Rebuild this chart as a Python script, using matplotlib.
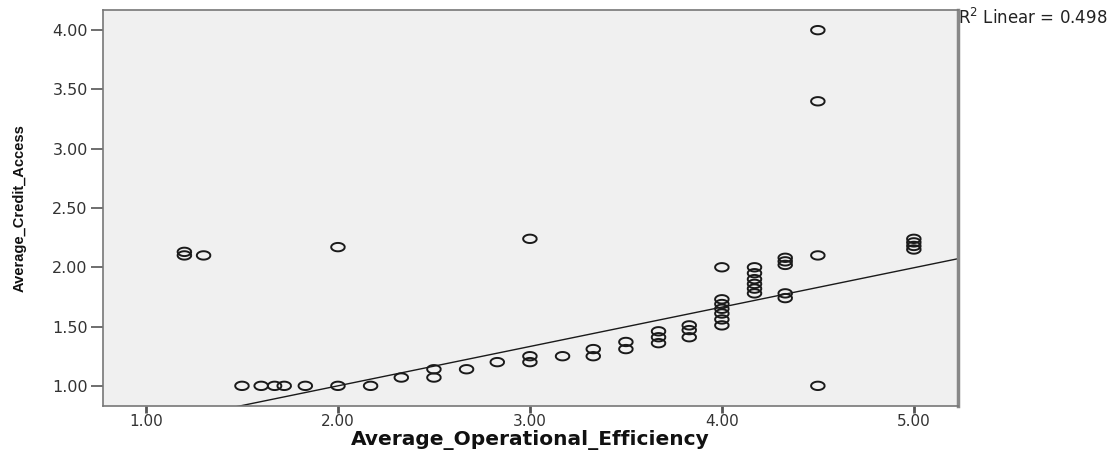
#!/usr/bin/env python3
"""
Scatter of average credit access against average operational efficiency,
with the linear fit line and its R-squared note.
"""

import matplotlib
matplotlib.use("Agg")
import matplotlib.pyplot as plt
import numpy as np
from matplotlib.path import Path

# Respondent averages (x = operational efficiency, y = credit access)
efficiency = [1.20, 1.20, 1.30, 2.00, 3.00,
              1.50, 1.60, 1.67, 1.72, 1.83, 2.00, 2.17,
              2.33, 2.50, 2.50, 2.67, 2.83, 3.00, 3.00, 3.17,
              3.33, 3.33, 3.50, 3.50, 3.67, 3.67, 3.67,
              3.83, 3.83, 3.83,
              4.00, 4.00, 4.00, 4.00, 4.00, 4.00, 4.00,
              4.17, 4.17, 4.17, 4.17, 4.17, 4.17,
              4.33, 4.33, 4.33, 4.33, 4.33,
              4.50, 4.50, 4.50, 4.50,
              5.00, 5.00, 5.00, 5.00]
credit = [2.13, 2.10, 2.10, 2.17, 2.24,
          1.00, 1.00, 1.00, 1.00, 1.00, 1.00, 1.00,
          1.07, 1.07, 1.14, 1.14, 1.20, 1.20, 1.25, 1.25,
          1.25, 1.31, 1.31, 1.37, 1.36, 1.41, 1.46,
          1.41, 1.47, 1.51,
          1.51, 1.56, 1.61, 1.65, 1.69, 1.73, 2.00,
          1.78, 1.82, 1.86, 1.90, 1.95, 2.00,
          1.74, 1.78, 2.02, 2.05, 2.08,
          1.00, 2.10, 3.40, 4.00,
          2.15, 2.18, 2.21, 2.24]

# Linear fit
fit_intercept = 0.336
fit_slope = 0.332
r_squared = 0.498

x_ticks = [1.0, 2.0, 3.0, 4.0, 5.0]
y_ticks = [1.0, 1.5, 2.0, 2.5, 3.0, 3.5, 4.0]


def plot_scatter():
    fig = plt.figure(figsize=(11.19, 4.50), dpi=100)
    ax = fig.add_axes([103 / 1119, 44 / 450, 855 / 1119, 396 / 450])
    ax.set_facecolor('#f0f0f0')

    # flattened circle marker
    t = np.linspace(0, 2 * np.pi, 60)
    ellipse = Path(np.column_stack([np.cos(t), 0.62 * np.sin(t)]))

    ax.scatter(efficiency, credit, marker=ellipse, s=95, facecolors='none',
               edgecolors='#1a1a1a', linewidths=1.4, zorder=3)

    ax.set_xlim(0.776, 5.23)
    ax.set_ylim(0.83, 4.17)

    xs = np.array(ax.get_xlim())
    ax.plot(xs, fit_intercept + fit_slope * xs, color='#1a1a1a',
            linewidth=1.0, zorder=2)

    ax.set_xticks(x_ticks)
    ax.set_yticks(y_ticks)
    ax.set_xticklabels([f'{v:.2f}' for v in x_ticks])
    ax.set_yticklabels([f'{v:.2f}' for v in y_ticks])
    ax.tick_params(axis='x', direction='out', length=5, width=2,
                   color='#555555', labelsize=11, labelcolor='#333333', pad=0.5)
    ax.tick_params(axis='y', direction='out', length=9, width=1.2,
                   color='#555555', labelsize=11.5, labelcolor='#333333', pad=2)

    for side in ['left', 'bottom', 'top']:
        ax.spines[side].set_color('#777777')
        ax.spines[side].set_linewidth(1.2)
    ax.spines['right'].set_color('#888888')
    ax.spines['right'].set_linewidth(2.5)

    # axis titles
    fig.text(530 / 1119, 1 - 440 / 450, 'Average_Operational_Efficiency',
             fontsize=14.5, fontweight='bold', color='#111111',
             ha='center', va='center')
    fig.text(20 / 1119, 1 - 208 / 450, 'Average_Credit_Access',
             fontsize=10.5, fontweight='bold', family='Liberation Sans',
             color='#111111', rotation=90, ha='center', va='center')

    fig.text(958 / 1119, 1 - 18 / 450, f'R$^2$ Linear = {r_squared}',
             fontsize=12, color='#222222', ha='left', va='center')

    fig.savefig('out.png', dpi=100)
    return fig


if __name__ == "__main__":
    plot_scatter()
